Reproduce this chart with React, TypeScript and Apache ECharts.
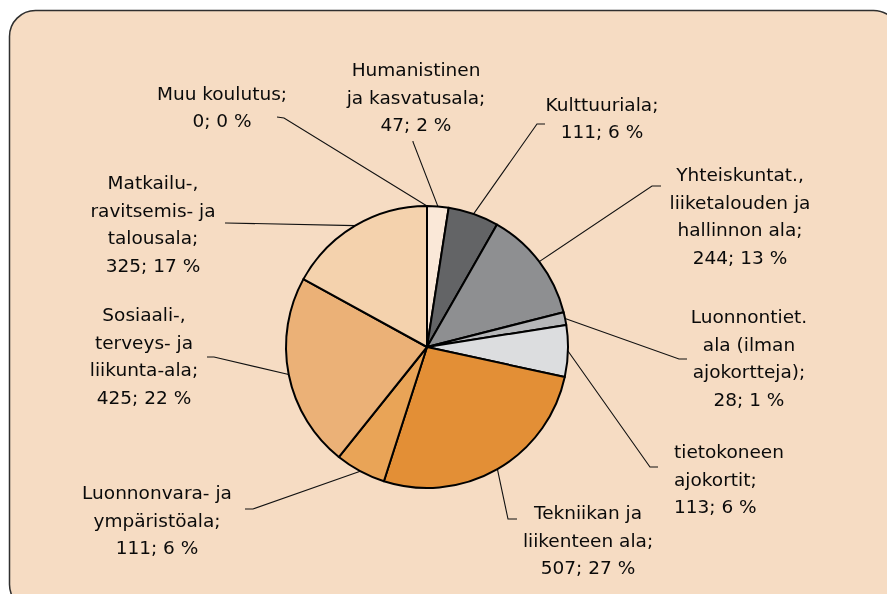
import React, { useEffect, useRef } from "react";
import * as echarts from "echarts";

const categories = [
  "Humanistinen\nja kasvatusala",
  "Kulttuuriala",
  "Yhteiskuntat.,\nliiketalouden ja\nhallinnon ala",
  "Luonnontiet.\nala (ilman\najokortteja)",
  "tietokoneen\najokortit",
  "Tekniikan ja\nliikenteen ala",
  "Luonnonvara- ja\nympäristöala",
  "Sosiaali-,\nterveys- ja\nliikunta-ala",
  "Matkailu-,\nravitsemis- ja\ntalousala",
  "Muu koulutus",
];
const values = [47, 111, 244, 28, 113, 507, 111, 425, 325, 0];

const palette = [
  "#fae8d8",
  "#636466",
  "#8e8f91",
  "#b6b7b9",
  "#dcdddf",
  "#e38f36",
  "#e9a457",
  "#ebb177",
  "#f4d2ad",
  "#f4d2ad",
];

// label placement: [centerX, centerY, align, elbowX, elbowY, endX, endY]
const labelPlacement: [number, number, string, number, number, number, number][] = [
  [416, 97, "center", 413, 142, 413, 141],
  [602, 118, "center", 537, 124, 545, 124],
  [740, 216, "center", 652, 186, 661, 186],
  [749, 358, "center", 679, 359, 687, 359],
  [674, 479, "left", 650, 467, 658, 467],
  [588, 540, "center", 508, 519, 517, 519],
  [157, 520, "center", 253, 509, 245, 509],
  [144, 356, "center", 214, 357, 207, 357],
  [153, 224, "center", 226, 223, 225, 223],
  [222, 107, "center", 284, 118, 277, 117],
];

export default function App() {
  const ref = useRef<HTMLDivElement>(null);
  useEffect(() => {
    if (!ref.current) return;
    const chart = echarts.init(ref.current, null, { renderer: "svg" });
    const cx = 427;
    const cy = 347;
    const r = 141;
    const total = values.reduce((a, b) => a + b, 0);
    const anchorFor = (i: number) => {
      let before = 0;
      for (let k = 0; k < i; k++) before += values[k];
      const mid = ((before + values[i] / 2) / total) * Math.PI * 2;
      return [cx + r * Math.sin(mid), cy - r * Math.cos(mid)];
    };
    chart.setOption({
      animation: false,
      graphic: [
        {
          type: "rect",
          silent: true,
          z: -10,
          shape: { x: 9.5, y: 10.5, width: 890, height: 600, r: 26 },
          style: { fill: "#f6dcc3", stroke: "#2f2f2f", lineWidth: 1.5 },
        },
      ],
      series: [
        {
          type: "pie",
          center: [cx, cy],
          radius: r,
          startAngle: 90,
          clockwise: true,
          percentPrecision: 0,
          avoidLabelOverlap: false,
          minShowLabelAngle: 0,
          data: categories.map((name, i) => ({
            name,
            value: values[i],
            itemStyle: { color: palette[i] },
          })),
          itemStyle: { borderColor: "#000", borderWidth: 2 },
          emphasis: { disabled: true },
          label: {
            show: true,
            position: "outside",
            fontFamily: "DejaVu Sans",
            fontSize: 18.5,
            lineHeight: 27.5,
            color: "#0a0a0a",
            formatter: (p: any) => `${p.name};\n${p.value}; ${p.percent} %`,
          },
          labelLine: {
            show: true,
            length: 10,
            length2: 10,
            lineStyle: { color: "#111", width: 1.1 },
          },
          labelLayout: (params: any) => {
            const pl = labelPlacement[params.dataIndex];
            const pts = params.labelLinePoints;
            const anchor = pts && pts[0] ? pts[0] : anchorFor(params.dataIndex);
            return {
              x: pl[0],
              y: pl[1],
              align: pl[2],
              verticalAlign: "middle",
              labelLinePoints: [anchor, [pl[3], pl[4]], [pl[5], pl[6]]],
            };
          },
        },
      ],
    });
    return () => chart.dispose();
  }, []);
  return (
    <div
      ref={ref}
      style={{ position: "fixed", left: 0, top: 0, width: 887, height: 594 }}
    />
  );
}
